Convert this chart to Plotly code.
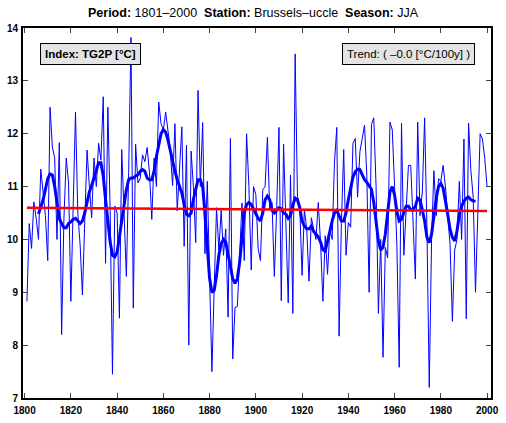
import plotly.graph_objects as go

years = list(range(1801, 2001))
tg2p = [
    8.83, 10.30, 9.83, 10.71, 10.40, 10.00, 11.33, 10.82, 10.45, 9.60,   # 1801-1810
    12.50, 11.75, 11.54, 10.00, 11.83, 8.20, 10.40, 11.54, 11.07, 8.83,  # 1811-1820
    10.45, 12.41, 10.50, 9.90, 8.95, 10.50, 11.69, 11.00, 10.41, 11.54,  # 1821-1830
    11.00, 11.82, 11.50, 12.70, 9.55, 12.50, 10.55, 7.45, 10.63, 10.50,  # 1831-1840
    8.51, 11.70, 10.40, 9.30, 11.26, 13.82, 8.70, 11.80, 11.07, 11.16,   # 1841-1850
    11.60, 11.47, 11.74, 11.26, 10.38, 11.54, 11.00, 12.60, 12.19, 12.07,  # 1851-1860
    12.41, 12.00, 11.70, 11.02, 12.19, 10.54, 11.30, 12.13, 9.87, 11.78,  # 1861-1870
    8.00, 11.67, 11.00, 9.94, 12.82, 11.00, 12.21, 9.73, 11.10, 9.10,    # 1871-1880
    7.50, 9.10, 10.60, 9.80, 10.55, 9.70, 10.20, 8.53, 11.91, 7.74,      # 1881-1890
    8.71, 8.73, 9.70, 10.69, 9.60, 12.00, 11.00, 9.42, 11.00, 10.85,     # 1891-1900
    9.82, 9.60, 10.94, 11.00, 11.93, 10.57, 10.70, 9.30, 10.57, 12.12,   # 1901-1910
    8.84, 11.80, 10.30, 8.80, 11.22, 8.60, 13.51, 10.82, 10.60, 9.32,    # 1911-1920
    10.57, 10.20, 9.21, 10.41, 10.20, 10.00, 10.70, 9.92, 8.83, 10.07,   # 1921-1930
    9.34, 10.20, 10.00, 11.45, 12.12, 8.17, 10.30, 11.70, 9.70, 10.32,   # 1931-1940
    10.23, 11.82, 11.91, 10.80, 11.66, 11.91, 12.16, 11.20, 9.00, 12.17,  # 1941-1950
    12.30, 11.00, 8.60, 10.00, 7.77, 9.85, 9.65, 12.22, 12.07, 11.00,    # 1951-1960
    9.90, 7.58, 12.20, 9.70, 10.70, 11.40, 11.40, 10.30, 9.25, 12.22,    # 1961-1970
    10.45, 10.90, 12.30, 10.20, 7.20, 10.00, 11.30, 10.45, 11.15, 11.10,  # 1971-1980
    11.40, 11.00, 10.40, 9.90, 8.45, 9.80, 10.00, 11.10, 10.00, 11.90,   # 1981-1990
    8.50, 12.20, 11.30, 10.80, 9.00, 10.50, 12.00, 11.90, 11.53, 11.00,  # 1991-2000
]

smooth_years = list(range(1806, 1996))
smooth = [
    10.48, 10.60, 10.75, 10.95, 11.15, 11.24, 11.22, 11.00, 10.65, 10.40,  # 1806-1815
    10.30, 10.22, 10.22, 10.30, 10.33, 10.38, 10.40, 10.35, 10.30, 10.35,  # 1816-1825
    10.50, 10.70, 10.90, 11.02, 11.15, 11.30, 11.45, 11.45, 11.20, 10.76,  # 1826-1835
    10.32, 9.95, 9.70, 9.67, 9.76, 10.07, 10.32, 10.70, 10.94, 11.13,      # 1836-1845
    11.16, 11.16, 11.20, 11.22, 11.29, 11.32, 11.29, 11.16, 11.13, 11.13,  # 1846-1855
    11.29, 11.57, 11.82, 12.00, 12.08, 12.03, 11.88, 11.69, 11.44, 11.29,  # 1856-1865
    11.13, 11.00, 10.88, 10.66, 10.48, 10.45, 10.50, 10.76, 10.97, 11.13,  # 1866-1875
    11.13, 11.00, 10.50, 9.82, 9.26, 9.00, 9.04, 9.32, 9.70, 9.92,         # 1876-1885
    10.00, 9.95, 9.70, 9.45, 9.26, 9.17, 9.26, 9.57, 10.07, 10.50,         # 1886-1895
    10.66, 10.70, 10.66, 10.57, 10.50, 10.40, 10.35, 10.50, 10.75, 10.82,  # 1896-1905
    10.75, 10.55, 10.50, 10.55, 10.60, 10.58, 10.50, 10.48, 10.40, 10.45,  # 1906-1915
    10.65, 10.78, 10.75, 10.60, 10.35, 10.25, 10.20, 10.20, 10.25, 10.15,  # 1916-1925
    10.10, 10.05, 9.95, 9.80, 9.78, 9.95, 10.15, 10.35, 10.50, 10.55,      # 1926-1935
    10.45, 10.35, 10.35, 10.50, 10.75, 11.00, 11.18, 11.28, 11.33, 11.32,  # 1936-1945
    11.22, 11.13, 11.08, 11.02, 10.95, 10.70, 10.32, 9.97, 9.80, 9.85,     # 1946-1955
    10.10, 10.55, 10.90, 11.00, 10.84, 10.53, 10.35, 10.38, 10.53, 10.63,  # 1956-1965
    10.63, 10.56, 10.56, 10.63, 10.78, 10.75, 10.56, 10.35, 10.04, 9.94,   # 1966-1975
    10.10, 10.47, 10.78, 11.00, 11.06, 10.97, 10.75, 10.47, 10.19, 10.04,  # 1976-1985
    9.97, 10.16, 10.47, 10.63, 10.72, 10.78, 10.80, 10.75, 10.73, 10.72,   # 1986-1995
]

trend_years = [1801, 2000]
trend = [10.60, 10.54]

x_ticks = [1800, 1820, 1840, 1860, 1880, 1900, 1920, 1940, 1960, 1980, 2000]
y_ticks = [7, 8, 9, 10, 11, 12, 13, 14]

FONT = "Liberation Sans, Arial, Helvetica, sans-serif"

fig = go.Figure()
fig.add_trace(go.Scatter(x=years, y=tg2p, mode="lines",
                         line=dict(color="#0000ff", width=1), showlegend=False))
fig.add_trace(go.Scatter(x=smooth_years, y=smooth, mode="lines",
                         line=dict(color="#0000ff", width=3),
                         showlegend=False))
fig.add_trace(go.Scatter(x=trend_years, y=trend, mode="lines",
                         line=dict(color="#ff0000", width=2.5), showlegend=False))

fig.update_layout(
    width=506, height=423,
    margin=dict(l=23, r=7, t=28, b=20),
    paper_bgcolor="white", plot_bgcolor="white",
    font=dict(family=FONT, size=10, color="black"),
    title=dict(
        text="<b>Period:</b> 1801–2000  <b>Station:</b> Brussels–uccle  <b>Season:</b> JJA",
        x=0.5, xanchor="center", y=0.969, yanchor="middle",
        font=dict(family=FONT, size=12.5, color="black"),
    ),
    xaxis=dict(range=[1799.3, 2001.7], tickvals=x_ticks, ticks="inside", ticklen=5,
               showline=True, linecolor="black", linewidth=1.8, mirror="allticks",
               showgrid=False, zeroline=False, ticklabelstandoff=2,
               tickfont=dict(family=FONT, size=10, weight="bold")),
    yaxis=dict(range=[7, 14], tickvals=y_ticks, ticks="inside", ticklen=5,
               showline=True, linecolor="black", linewidth=1.8, mirror="allticks",
               showgrid=False, zeroline=False, ticklabelstandoff=1,
               tickfont=dict(family=FONT, size=10, weight="bold")),
    annotations=[
        dict(text="<b>Index: TG2P [°C]</b>", xref="paper", yref="paper",
             x=0.037, y=0.96, xanchor="left", yanchor="top", showarrow=False,
             font=dict(family=FONT, size=11.5, color="black"),
             bgcolor="#e4e4e4", bordercolor="black", borderwidth=1, borderpad=4),
        dict(text="Trend: ( –0.0 [°C/100y] )", xref="paper", yref="paper",
             x=0.965, y=0.96, xanchor="right", yanchor="top", showarrow=False,
             font=dict(family=FONT, size=11.5, color="black"),
             bgcolor="#e4e4e4", bordercolor="black", borderwidth=1, borderpad=4),
    ],
)

fig.write_html("out.html", config={"displayModeBar": False},
               post_script="document.body.style.margin='0';document.body.style.overflow='hidden';")
